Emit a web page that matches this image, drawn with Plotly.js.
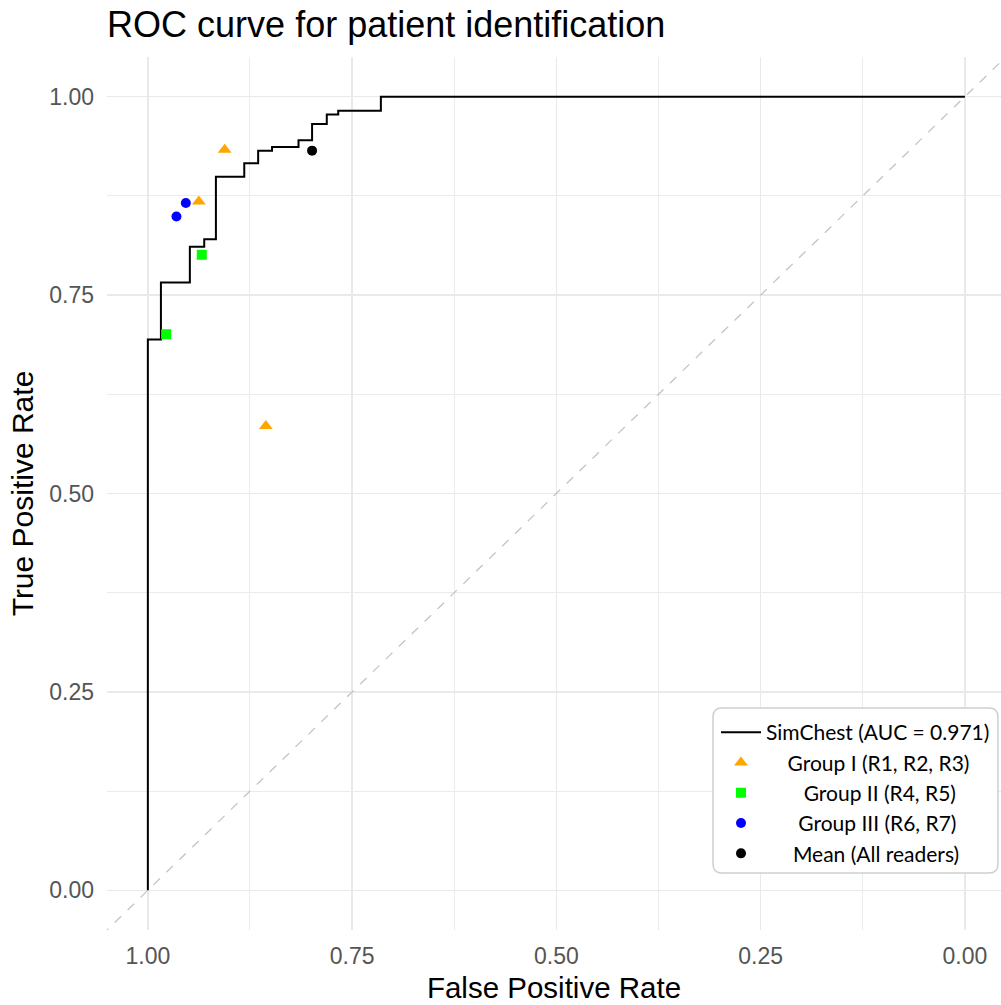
<!DOCTYPE html>
<html>
<head>
<meta charset="utf-8">
<script src="https://cdn.plot.ly/plotly-3.0.1.min.js"></script>
<style>
  html, body { margin: 0; padding: 0; background: #ffffff; }
  #chart { width: 1001px; height: 1005px; }
</style>
</head>
<body>
<div id="chart"></div>
<script>
// ROC curve step vertices (x axis shown as "False Positive Rate", reversed)
const rocX = [1.000, 0.984, 0.9486, 0.931, 0.9167, 0.882, 0.865, 0.848, 0.8156, 0.799, 0.781, 0.767, 0.7148, 0.000];
const rocY = [0.000, 0.694, 0.766, 0.811, 0.8205, 0.899, 0.916, 0.932, 0.9365, 0.945, 0.9656, 0.9777, 0.9823, 1.000];

// Reader operating points
const group1X = [0.906, 0.9376, 0.8556];
const group1Y = [0.933, 0.868, 0.585];
const group2X = [0.934, 0.9776];
const group2Y = [0.8008, 0.7007];
const group3X = [0.9535, 0.965];
const group3Y = [0.866, 0.849];
const meanX = [0.799];
const meanY = [0.932];

// Chance line extent (y = 1 - x), clipped by the axes
const chanceX = [-0.2, 1.2];
const chanceY = chanceX.map(v => 1 - v);

const tickVals = [0, 0.25, 0.5, 0.75, 1];
const tickText = ["0.00", "0.25", "0.50", "0.75", "1.00"];

const NB = "\u00A0";
const pad = n => NB.repeat(n);

const traces = [
  {
    x: chanceX, y: chanceY, mode: "lines", showlegend: false, hoverinfo: "skip",
    line: { color: "#c4c4c4", width: 1.3, dash: "dash" }
  },
  {
    x: rocX, y: rocY, mode: "lines", name: "SimChest (AUC = 0.971)",
    line: { color: "#000000", width: 2, shape: "vh" }
  },
  {
    x: group1X, y: group1Y, mode: "markers", name: pad(4) + "Group I (R1, R2, R3)",
    marker: { symbol: "triangle-up", color: "#FFA500", size: 12 }
  },
  {
    x: group2X, y: group2Y, mode: "markers", name: pad(7) + "Group II (R4, R5)",
    marker: { symbol: "square", color: "#00FF00", size: 10 }
  },
  {
    x: group3X, y: group3Y, mode: "markers", name: pad(6) + "Group III (R6, R7)",
    marker: { symbol: "circle", color: "#0000FF", size: 10 }
  },
  {
    x: meanX, y: meanY, mode: "markers", name: pad(5) + "Mean (All readers)",
    marker: { symbol: "circle", color: "#000000", size: 10 }
  }
];

const axisFont = { family: "Liberation Sans, Arial, sans-serif", size: 23, color: "#555555" };
const titleFont = { family: "Liberation Sans, Arial, sans-serif", size: 29.5, color: "#000000" };

// legend frame (rounded) in pixel terms of the figure, converted to paper coords
const W = 1001, H = 1005, ML = 107, MR = 0, MT = 57, MB = 75;
const pw = W - ML - MR, ph = H - MT - MB;
const px2x = p => (p - ML) / pw;
const py2y = p => (H - MB - p) / ph;
function roundRect(x0, y0, x1, y1, r) {
  const P = (a, b) => px2x(a).toFixed(5) + "," + py2y(b).toFixed(5);
  return "M" + P(x0 + r, y0) + " L" + P(x1 - r, y0) + " Q" + P(x1, y0) + " " + P(x1, y0 + r) +
         " L" + P(x1, y1 - r) + " Q" + P(x1, y1) + " " + P(x1 - r, y1) +
         " L" + P(x0 + r, y1) + " Q" + P(x0, y1) + " " + P(x0, y1 - r) +
         " L" + P(x0, y0 + r) + " Q" + P(x0, y0) + " " + P(x0 + r, y0) + " Z";
}

const layout = {
  width: W,
  height: H,
  margin: { l: ML, r: MR, t: MT, b: MB },
  paper_bgcolor: "#ffffff",
  plot_bgcolor: "#ffffff",
  title: {
    text: "ROC curve for patient identification",
    font: { family: "Liberation Sans, Arial, sans-serif", size: 36, color: "#000000" },
    x: 0.107, xref: "container", xanchor: "left",
    y: 0.976, yref: "container", yanchor: "middle"
  },
  xaxis: {
    range: [1.05, -0.0442],
    tickvals: tickVals, ticktext: tickText,
    showgrid: true, gridcolor: "#e9e9e9", gridwidth: 1.6,
    minor: { dtick: 0.125, tick0: 0, showgrid: true, gridcolor: "#ebebeb", gridwidth: 1 },
    zeroline: false, showline: false, ticks: "",
    tickfont: axisFont, ticklabelstandoff: 10,
    title: { text: "False Positive Rate", font: titleFont, standoff: 9 },
    automargin: false
  },
  yaxis: {
    range: [-0.05, 1.05],
    tickvals: tickVals, ticktext: tickText,
    showgrid: true, gridcolor: "#e9e9e9", gridwidth: 1.6,
    minor: { dtick: 0.125, tick0: 0, showgrid: true, gridcolor: "#ebebeb", gridwidth: 1 },
    zeroline: false, showline: false, ticks: "",
    tickfont: axisFont, ticklabelstandoff: 12,
    title: { text: "True Positive Rate", font: Object.assign({}, titleFont, { size: 30 }), standoff: 6 },
    automargin: false
  },
  shapes: [
    {
      type: "path", xref: "paper", yref: "paper", layer: "above",
      path: roundRect(713, 708, 998, 873, 9),
      fillcolor: "#ffffff", line: { color: "#cfcfcf", width: 1.5 }
    }
  ],
  legend: {
    x: px2x(716), y: py2y(712), xanchor: "left", yanchor: "top",
    bgcolor: "rgba(0,0,0,0)", borderwidth: 0,
    font: { family: "Lato, Carlito, Calibri, sans-serif", size: 21, color: "#000000" },
    itemwidth: 40, tracegroupgap: 0
  },
  showlegend: true
};

Plotly.newPlot("chart", traces, layout, { displayModeBar: false, staticPlot: true });
</script>
</body>
</html>
